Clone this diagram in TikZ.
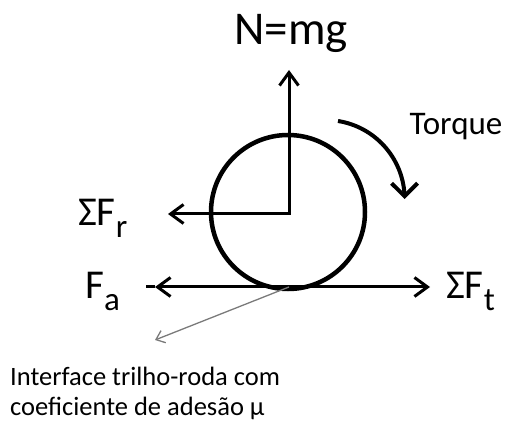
\documentclass[tikz,border=0pt]{standalone}
\usepackage{fontspec}
\setmainfont{Carlito}
\usetikzlibrary{arrows.meta,bending}
\newcommand{\sbs}[1]{\raisebox{-0.27em}{\fontsize{33}{33}\selectfont #1}}
\begin{document}
\begin{tikzpicture}[x=1pt,y=-1pt,
  force/.style={line width=3pt, line join=miter},
  barb/.style={-{Straight Barb[length=13pt,width=19pt]}},
  lbl/.style={inner sep=0pt, font=\fontsize{41}{48}\selectfont},
  grayarrow/.style={draw=black!52, line width=1.3pt, -{Straight Barb[length=8pt,width=13pt]}},
  torquearrow/.style={line width=4pt, -{Straight Barb[length=13pt,width=26pt,flex]}},
  wheel/.style={circle, draw, line width=4.5pt, minimum size=154pt, inner sep=0pt}]
\useasboundingbox (0,0) rectangle (507,425);
% wheel
\node[wheel] (w) at (288,212) {};
% coordinates
\coordinate (o) at (289,214);
\coordinate (ntip) at (289,70);
\coordinate (rtip) at (168,214);
\coordinate (p) at (289,287);
\coordinate (fatip) at (155,287);
\coordinate (fatail) at (146,287);
\coordinate (fttip) at (430,287);
\coordinate (gtip) at (155,340);
\coordinate (tqs) at (338,121);
% forces
\draw[force, {Straight Barb[length=13pt,width=19pt]}-{Straight Barb[length=13pt,width=19pt]}] (rtip) -- (o) -- (ntip);
\draw[force, barb] (p) -- (fttip);
\draw[force, barb] (p) -- (fatip);
\draw[force] (fatip) -- (fatail);
\draw[grayarrow] (p) -- (gtip);
\draw[torquearrow] (tqs) arc[start angle=-81, end angle=0, radius=79];
% labels
\node[inner sep=0pt, anchor=base, font=\fontsize{47}{56}\selectfont] (n) at (291,45) {N=mg};
\node[inner sep=0pt, anchor=base, font=\fontsize{33}{38}\selectfont] (tq) at (456,135) {Torque};
\node[lbl, anchor=base west] (fr) at (78,226) {ΣF\sbs{r}};
\node[lbl, anchor=base west] (fa) at (85,299) {F\sbs{a}};
\node[lbl, anchor=base west] (ft) at (446,299) {ΣF\sbs{t}};
\node[inner sep=0pt, anchor=base west, font=\fontsize{26.5}{30}\selectfont] (txt) at (10,385) {Interface trilho-roda com};
\node[inner sep=0pt, anchor=base west, font=\fontsize{26.5}{30}\selectfont] (txt2) at (10,415) {coeficiente de adesão µ};
\end{tikzpicture}
\end{document}
